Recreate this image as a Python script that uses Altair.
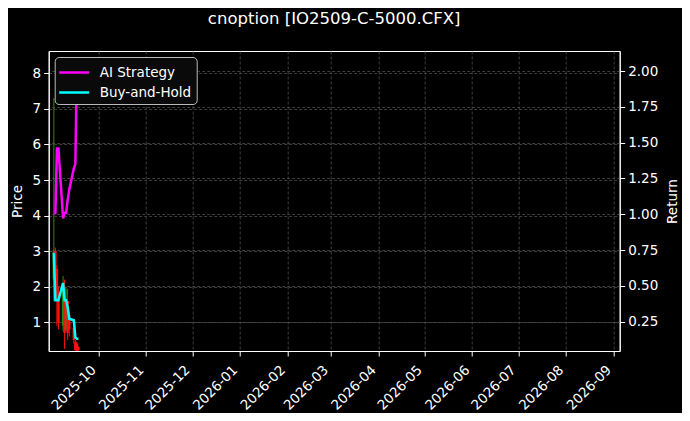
import altair as alt
import pandas as pd

# ---- data ----
dates = ["2025-09-02", "2025-09-03", "2025-09-04", "2025-09-05", "2025-09-08",
         "2025-09-09", "2025-09-10", "2025-09-11", "2025-09-12", "2025-09-15",
         "2025-09-16", "2025-09-17", "2025-09-18"]
opens = [2.2, 3.0, 2.5, 1.8, 0.9, 2.0, 0.8, 1.6, 1.2, 0.85, 0.45, 0.40, 0.30]
highs = [7.3, 3.1, 2.6, 2.0, 2.3, 2.2, 1.95, 1.95, 1.3, 0.90, 0.50, 0.45, 0.32]
lows = [1.6, 1.7, 0.9, 0.8, 0.75, 0.25, 0.75, 0.5, 0.6, 0.40, 0.20, 0.20, 0.20]
closes = [3.0, 1.8, 1.6, 1.0, 2.0, 0.7, 1.5, 0.7, 0.8, 0.50, 0.22, 0.20, 0.22]

ai_returns = [None, 1.00, 1.46, 1.46, 0.97, 1.01, 1.01, 1.10, 1.17, 1.32, 1.35, 2.05, None]
bh_returns = [0.73, 0.40, 0.40, 0.40, 0.52, 0.40, 0.40, 0.35, 0.27, 0.26, 0.14, 0.13, 0.13]

series_names = ["AI Strategy", "Buy-and-Hold"]
series_colors = ["#ff00ff", "#00ffff"]

month_ticks = [(2025, 10), (2025, 11), (2025, 12), (2026, 1), (2026, 2), (2026, 3),
               (2026, 4), (2026, 5), (2026, 6), (2026, 7), (2026, 8), (2026, 9)]
price_ticks = [1, 2, 3, 4, 5, 6, 7, 8]
return_ticks = [0.25, 0.50, 0.75, 1.00, 1.25, 1.50, 1.75, 2.00]

# ---- tables ----
candles = pd.DataFrame({
    "date": [d + "T00:00:00" for d in dates],
    "open": opens, "high": highs, "low": lows, "close": closes,
})
candles["dir"] = ["up" if c >= o else "down" for o, c in zip(opens, closes)]

rows = []
for d, a, b in zip(dates, ai_returns, bh_returns):
    if a is not None:
        rows.append({"date": d + "T00:00:00", "series": "AI Strategy", "ret": a})
    if b is not None:
        rows.append({"date": d + "T00:00:00", "series": "Buy-and-Hold", "ret": b})
lines_df = pd.DataFrame(rows)

FONT = "DejaVu Sans"
GRID = "#4d4d4d"

x_scale = alt.Scale(domain=[alt.DateTime(year=2025, month=9, date=1, hours=22),
                            alt.DateTime(year=2026, month=9, date=1, hours=16)])
x_axis = alt.Axis(
    values=[alt.DateTime(year=y, month=m, date=1) for y, m in month_ticks],
    format="%Y-%m", labelAngle=-45, labelAlign="right", labelBaseline="bottom",
    labelOverlap=False, labelFlush=False, labelBound=False,
    labelFontSize=13.5, labelColor="white", labelFont=FONT, labelPadding=16.5,
    tickColor="white", tickSize=5, domainColor="white",
    grid=True, gridColor=GRID, gridDash=[3, 2], gridWidth=0.8, title=None,
)
x_enc = alt.X("date:T", scale=x_scale, axis=x_axis)

price_scale = alt.Scale(domain=[0.193, 8.627], nice=False, zero=False)
price_axis = alt.Axis(
    orient="left", values=price_ticks, format="d", title="Price",
    titleColor="white", titleFont=FONT, titleFontSize=13.5, titleFontWeight="normal",
    titlePadding=8, labelFontSize=13.5, labelColor="white", labelFont=FONT,
    labelPadding=3, tickColor="white", tickSize=5, domainColor="white",
    grid=True, gridColor=GRID, gridDash=[3, 2], gridWidth=0.8,
)

candle_color = alt.Color("dir:N", scale=alt.Scale(domain=["up", "down"],
                                                   range=["#1c8c1c", "#ff1010"]),
                         legend=None)

wicks = alt.Chart(candles).mark_rule(strokeWidth=1, clip=True).encode(
    x=x_enc,
    y=alt.Y("low:Q", scale=price_scale, axis=price_axis),
    y2="high:Q",
    color=candle_color,
)
bodies = alt.Chart(candles).mark_bar(size=2.5, clip=True).encode(
    x=x_enc,
    y=alt.Y("open:Q", scale=price_scale, axis=price_axis),
    y2="close:Q",
    color=candle_color,
)
candle_layer = alt.layer(wicks, bodies)

ret_scale = alt.Scale(domain=[0.045, 2.14], nice=False, zero=False)
ret_axis = alt.Axis(
    orient="right", values=return_ticks, format=".2f", title="Return",
    titleAngle=270,
    titleColor="white", titleFont=FONT, titleFontSize=13.5, titleFontWeight="normal",
    titlePadding=22, labelFontSize=13.5, labelColor="white", labelFont=FONT,
    labelPadding=3, tickColor="white", tickSize=5, domainColor="white",
    grid=True, gridColor=GRID, gridDash=[3, 2], gridWidth=0.8,
)

lines = alt.Chart(lines_df).mark_line(strokeWidth=2.5, clip=True).encode(
    x=x_enc,
    y=alt.Y("ret:Q", scale=ret_scale, axis=ret_axis),
    color=alt.Color("series:N",
                    scale=alt.Scale(domain=series_names, range=series_colors),
                    legend=alt.Legend(
                        title=None, orient="top-left", offset=6, padding=5,
                        strokeColor="#bbbbbb", fillColor="#0a0a0a", cornerRadius=4,
                        symbolType="M-1.22,0H2.11", symbolSize=324, symbolStrokeWidth=2.5,
                        labelFontSize=13.5, labelColor="white", labelFont=FONT,
                        labelOffset=19, rowPadding=3,
                    )),
    detail="series:N",
)

chart = alt.layer(candle_layer, lines).resolve_scale(
    y="independent", color="independent"
).properties(
    width=571, height=300,
    title=alt.TitleParams("cnoption [IO2509-C-5000.CFX]", fontSize=16.5, color="white",
                          font=FONT, fontWeight="normal", anchor="middle",
                          frame="group", baseline="bottom", offset=8),
    autosize=alt.AutoSizeParams(type="none"),
    padding={"left": 40.7, "top": 43, "right": 62.3, "bottom": 62},
    background="#000000",
).configure_view(
    stroke="#ffffff", strokeWidth=1
)

chart.save("out.html", embed_options={"renderer": "svg", "actions": False})
